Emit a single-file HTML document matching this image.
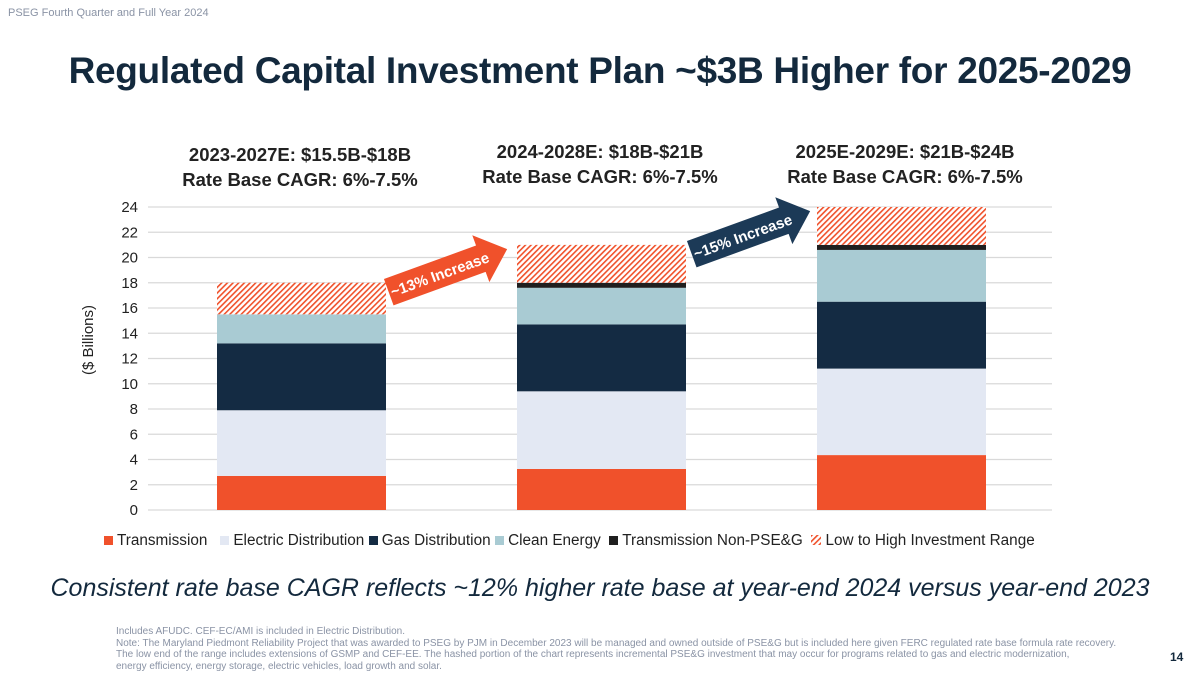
<!DOCTYPE html>
<html><head><meta charset="utf-8"><style>
body{margin:0;width:1200px;height:675px;background:#fff;overflow:hidden;font-family:"Liberation Sans",Arial,sans-serif;position:relative}
.a{position:absolute}
</style></head><body>
<div class="a" style="left:8px;top:7px;font-size:11px;color:#8a93a5">PSEG Fourth Quarter and Full Year 2024</div>
<div class="a" style="left:0;width:1200px;top:50px;text-align:center;font-size:37px;font-weight:bold;color:#13293d;letter-spacing:-0.3px">Regulated Capital Investment Plan ~$3B Higher for 2025-2029</div>
<svg class="a" style="left:0;top:0" width="1200" height="675">
<defs><pattern id="h" width="4" height="4" patternUnits="userSpaceOnUse" patternTransform="rotate(45)"><rect width="4" height="4" fill="#fff"/><rect width="1.6" height="4" fill="#f0512b"/></pattern></defs>
<g id="grid"></g><g id="bars"></g><g id="ylab"></g>
<text x="93" y="340" transform="rotate(-90 93 340)" text-anchor="middle" font-size="15" fill="#222">($ Billions)</text>
<g transform="translate(447,271) rotate(-20)"><polygon points="-62,-14 36,-14 36,-25 64,0 36,25 36,14 -62,14" fill="#f0512b"/><text x="-8" y="6" text-anchor="middle" font-size="15" font-weight="bold" fill="#fff">~13% Increase</text></g>
<g transform="translate(750,233) rotate(-20)"><polygon points="-62,-14 36,-14 36,-25 64,0 36,25 36,14 -62,14" fill="#1c3a57"/><text x="-8" y="6" text-anchor="middle" font-size="15" font-weight="bold" fill="#fff">~15% Increase</text></g>
</svg>
<div class="a" style="left:140px;width:320px;top:142px;text-align:center;font-size:18.5px;font-weight:bold;color:#222;line-height:25px">2023-2027E: $15.5B-$18B<br>Rate Base CAGR: 6%-7.5%</div>
<div class="a" style="left:440px;width:320px;top:139px;text-align:center;font-size:18.5px;font-weight:bold;color:#222;line-height:25px">2024-2028E: $18B-$21B<br>Rate Base CAGR: 6%-7.5%</div>
<div class="a" style="left:745px;width:320px;top:139px;text-align:center;font-size:18.5px;font-weight:bold;color:#222;line-height:25px">2025E-2029E: $21B-$24B<br>Rate Base CAGR: 6%-7.5%</div>
<div class="a" style="left:104px;top:532px;font-size:15.3px;color:#222;white-space:nowrap">
<span><span style="display:inline-block;width:9px;height:9px;background:#f0512b"></span> Transmission</span>&nbsp;&nbsp;
<span><span style="display:inline-block;width:9px;height:9px;background:#e3e8f3"></span> Electric Distribution</span>
<span><span style="display:inline-block;width:9px;height:9px;background:#142b43"></span> Gas Distribution</span>
<span><span style="display:inline-block;width:9px;height:9px;background:#a9cbd3"></span> Clean Energy</span>&nbsp;
<span><span style="display:inline-block;width:9px;height:9px;background:#1f1f1f"></span> Transmission Non-PSE&amp;G</span>&nbsp;
<span><svg width="10" height="10"><rect width="10" height="10" fill="url(#h)"/></svg> Low to High Investment Range</span></div>
<div class="a" style="left:0;width:1200px;top:574px;text-align:center;font-size:25px;font-style:italic;color:#13293d">Consistent rate base CAGR reflects ~12% higher rate base at year-end 2024 versus year-end 2023</div>
<div class="a" style="left:116px;top:626px;width:1040px;font-size:10px;color:#8a93a5;line-height:11.5px">Includes AFUDC. CEF-EC/AMI is included in Electric Distribution.<br>Note: The Maryland Piedmont Reliability Project that was awarded to PSEG by PJM in December 2023 will be managed and owned outside of PSE&amp;G but is included here given FERC regulated rate base formula rate recovery.<br>The low end of the range includes extensions of GSMP and CEF-EE. The hashed portion of the chart represents incremental PSE&amp;G investment that may occur for programs related to gas and electric modernization,<br>energy efficiency, energy storage, electric vehicles, load growth and solar.</div>
<div class="a" style="left:1170px;top:650px;font-size:12px;font-weight:bold;color:#13293d">14</div>
<script>
const categories=["2023-2027E","2024-2028E","2025E-2029E"];
const transmission=[2.7,3.25,4.35];
const electric=[5.2,6.15,6.85];
const gas=[5.3,5.3,5.3];
const clean=[2.3,2.9,4.1];
const nonPseg=[0,0.4,0.4];
const range=[2.5,3,3];
const ticks=[0,2,4,6,8,10,12,14,16,18,20,22,24];
const series=[["transmission",transmission,"#f0512b"],["electric",electric,"#e3e8f3"],["gas",gas,"#142b43"],["clean",clean,"#a9cbd3"],["non-pseg",nonPseg,"#1f1f1f"],["range",range,"url(#h)"]];
const NS="http://www.w3.org/2000/svg";
const y=v=>510-v*(303/24);
const x=i=>217+i*300;
const g=document.getElementById('grid'),b=document.getElementById('bars'),yl=document.getElementById('ylab');
ticks.forEach(t=>{
 const l=document.createElementNS(NS,'line');
 l.setAttribute('x1',148);l.setAttribute('x2',1052);l.setAttribute('y1',y(t));l.setAttribute('y2',y(t));
 l.setAttribute('stroke','#d9d9d9');l.setAttribute('stroke-width','1.3');
 
 
 g.appendChild(l);
 const tx=document.createElementNS(NS,'text');
 tx.setAttribute('x',138);tx.setAttribute('y',y(t)+5);tx.setAttribute('text-anchor','end');tx.setAttribute('font-size','15');tx.setAttribute('fill','#222');
 tx.textContent=t;
 
 
 yl.appendChild(tx);
});
categories.forEach((c,i)=>{
 let base=0;
 series.forEach(s=>{
  const v=s[1][i];if(!v)return;
  const r=document.createElementNS(NS,'rect');
  r.setAttribute('x',x(i));r.setAttribute('width',169);
  r.setAttribute('y',y(base+v));r.setAttribute('height',y(base)-y(base+v));
  r.setAttribute('fill',s[2]);
  
  
  b.appendChild(r);base+=v;
 });
});
</script>
</body></html>
